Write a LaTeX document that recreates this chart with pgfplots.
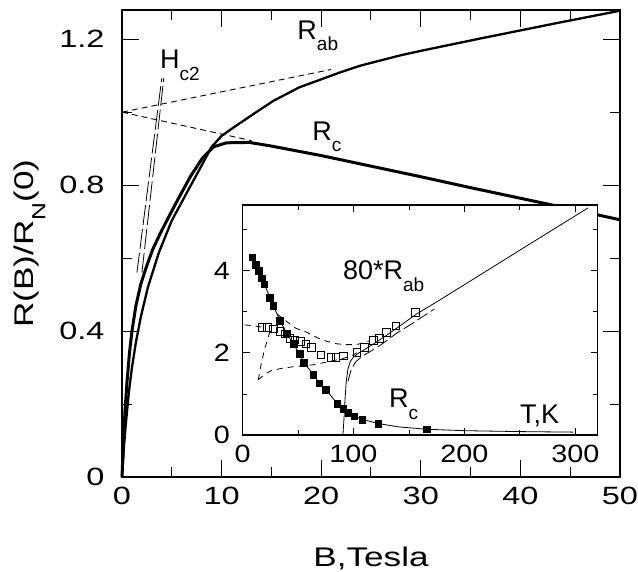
\documentclass[border=0pt]{standalone}
\usepackage{fontspec}
\setmainfont{Liberation Sans}
\newfontfamily\tickfont{Liberation Sans}[FakeStretch=1.3]
\newfontfamily\insetfont{Liberation Sans}[FakeStretch=1.15]
\newfontfamily\labfont{Liberation Sans}[FakeStretch=1.3]
\usepackage{pgfplots}
\pgfplotsset{compat=1.18}
\newcommand{\sub}[1]{\raisebox{-0.42em}{\fontsize{19}{19}\selectfont #1}}
\begin{document}
\begin{tikzpicture}
\path[use as bounding box] (0,0) rectangle (638pt,571pt);
% main panel
\begin{axis}[
  at={(122pt,94pt)}, anchor=south west,
  width=498pt, height=467pt, scale only axis,
  xmin=0, xmax=50, ymin=0, ymax=1.28,
  xtick={0,10,...,50}, minor xtick={5,15,...,45},
  ytick={0,0.4,0.8,1.2}, minor ytick={0.2,0.6,1.0},
  xticklabels={0,10,20,30,40,50}, yticklabels={0,0.4,0.8,1.2},
  tick align=inside,
  major tick length=17pt, minor tick length=10pt,
  every tick/.style={black, line width=1pt},
  axis line style={line width=1.5pt},
  ticklabel style={font=\tickfont\fontsize{25}{25}\selectfont},
  yticklabel style={xshift=-14pt},
  xticklabel style={yshift=-7pt},
  xlabel={B,Tesla}, ylabel={R(B)/R\sub{N}(0)},
  label style={font=\labfont\fontsize{27}{27}\selectfont},
  xlabel style={at={(axis description cs:0.5,-0.175)}, anchor=center},
  ylabel style={at={(axis description cs:-0.185,0.5)}, anchor=center},
  clip=false,
]
% R_c
\addplot[black, line width=3pt] coordinates {
  (0,0) (0.15,0.1) (0.3,0.18) (0.5,0.26) (0.75,0.34) (1.0,0.40) (1.4,0.47)
  (1.9,0.53) (2.5,0.58) (3.1,0.625) (3.8,0.665) (4.5,0.703) (5.6,0.76)
  (6.9,0.825) (8.1,0.875) (9.2,0.905) (10.5,0.916) (12.8,0.917) (15,0.907)
  (20,0.881) (25,0.852) (30,0.823) (35,0.793) (40,0.764) (45,0.735) (50,0.705)};
% R_ab
\addplot[black, line width=2.3pt] coordinates {
  (0,0) (0.2,0.085) (0.4,0.15) (0.7,0.235) (1.0,0.30) (1.4,0.37) (1.9,0.44)
  (2.6,0.52) (3.7,0.615) (5.0,0.703) (6.8,0.794) (7.9,0.849) (9.0,0.905)
  (10,0.935) (11.2,0.958) (13.2,0.995) (15.2,1.031) (17.8,1.068) (20,1.09)
  (22,1.11) (24,1.128) (26,1.142) (28,1.156) (30,1.168) (33,1.185)
  (36,1.202) (40,1.224) (44,1.246) (47,1.262) (50,1.278)};
% linear extrapolations to B=0
\addplot[black, line width=0.9pt, dash pattern=on 6pt off 4pt] coordinates {(0,1.0) (21,1.117)};
\addplot[black, line width=0.9pt, dash pattern=on 6pt off 4pt] coordinates {(0,1.0) (13,0.922)};
% H_c2
\addplot[black, line width=0.8pt, dash pattern=on 20pt off 4pt] coordinates {(1.5,0.56) (4.0,1.094)};
\addplot[black, line width=0.8pt, dash pattern=on 20pt off 4pt] coordinates {(2.0,0.56) (4.2,1.094)};
\node[anchor=base west, font=\fontsize{27}{27}\selectfont, inner sep=0pt] at (axis cs:3.8,1.119) {H\sub{c2}};
\node[anchor=base west, font=\fontsize{27}{27}\selectfont, inner sep=0pt] at (axis cs:17.6,1.2) {R\sub{ab}};
\node[anchor=base west, font=\fontsize{27}{27}\selectfont, inner sep=0pt] at (axis cs:19.1,0.922) {R\sub{c}};
\end{axis}
% inset
\begin{axis}[
  at={(242.5pt,136pt)}, anchor=south west,
  width=355pt, height=230pt, scale only axis,
  axis background/.style={fill=white},
  xmin=0, xmax=320, ymin=0, ymax=5.6,
  xtick={0,100,200,300}, minor xtick={50,150,250},
  ytick={0,2,4}, minor ytick={1,3,5},
  xticklabels={0,100,200,300}, yticklabels={0,2,4},
  tick align=inside,
  major tick length=7pt, minor tick length=4.5pt,
  every tick/.style={black, line width=0.8pt},
  axis line style={line width=1.5pt},
  ticklabel style={font=\insetfont\fontsize{25}{25}\selectfont},
  yticklabel style={xshift=-9pt},
  xticklabel style={yshift=-7pt},
  clip=false,
]
% R_c points and line
\addplot[black, line width=0.8pt] coordinates {
  (8.7,4.33) (11.9,4.15) (14.9,4.0) (17.3,3.82) (19.6,3.67) (24.8,3.35)
  (27.7,3.15) (33.8,2.79) (39.8,2.48) (45.8,2.22) (51.2,1.98) (55.4,1.77)
  (63.8,1.47) (69.2,1.26) (75.2,1.10) (85.4,0.77) (90.8,0.65) (95.3,0.54)
  (100.7,0.46) (107.9,0.38) (122.3,0.28) (140,0.2) (165.9,0.14) (200,0.105)
  (250,0.083) (298,0.07)};
\addplot[only marks, mark=square*, mark size=3.4pt, black] coordinates {
  (8.7,4.33) (11.9,4.15) (14.9,4.0) (17.3,3.82) (19.6,3.67) (24.8,3.35)
  (27.7,3.15) (33.8,2.79) (39.8,2.48) (45.8,2.22) (51.2,1.98) (55.4,1.77)
  (63.8,1.47) (69.2,1.26) (75.2,1.10) (85.4,0.77) (90.8,0.65) (95.3,0.54)
  (100.7,0.46) (107.9,0.38) (122.3,0.28) (165.9,0.14)};
% 80*R_ab solid
\addplot[black, line width=0.8pt] coordinates {
  (90.5,0) (91.5,0.4) (92.5,0.9) (93.5,1.3) (95,1.6) (97,1.78) (100,1.9)
  (105,2.0) (110,2.08) (120,2.25) (130,2.43) (140,2.62) (156,2.93)
  (178,3.29) (250,4.5) (311.5,5.53)};
% 80*R_ab long dashed
\addplot[black, line width=0.8pt, dash pattern=on 12pt off 4pt] coordinates {
  (95,1.3) (98,1.6) (102,1.78) (108,1.92) (115,2.03) (125,2.2) (139,2.48)
  (151,2.68) (173,3.07)};
% dashed fits
\addplot[black, line width=0.8pt, dash pattern=on 6pt off 5pt] coordinates {
  (31,2.95) (38,2.8) (48,2.6) (58,2.5) (68,2.36) (76,2.28) (85,2.22)
  (94,2.2) (102,2.2) (109,2.24) (115,2.3)};
\addplot[black, line width=0.8pt, dash pattern=on 6pt off 5pt] coordinates {
  (2,2.68) (10,2.66) (17,2.63)};
\addplot[black, line width=0.8pt, dash pattern=on 6pt off 5pt] coordinates {
  (14.2,1.34) (17,1.75) (20,2.1) (24.5,2.5)};
\addplot[black, line width=0.8pt, dash pattern=on 6pt off 5pt] coordinates {
  (14,1.34) (20,1.48) (26,1.57) (35,1.62) (45,1.66) (64,1.71) (82,1.81)
  (97,1.91) (103,2.0)};
% open squares
\addplot[only marks, mark=square, mark size=3.8pt, black, mark options={line width=0.7pt}] coordinates {
  (17.3,2.62) (22.3,2.62) (27.7,2.58) (33.8,2.52) (38.3,2.46) (42.8,2.36)
  (47.3,2.32) (52.4,2.28) (57.2,2.22) (62.3,2.13) (70.5,1.95) (79.7,1.89)
  (84.2,1.89) (90.8,1.93) (102.9,2.01) (109.7,2.14) (117.8,2.30)
  (123.2,2.36) (129.9,2.50) (138.3,2.66) (156,2.98)};
\node[anchor=base west, font=\fontsize{27}{27}\selectfont, inner sep=0pt] at (axis cs:90.5,3.78) {80*R\sub{ab}};
\node[anchor=base west, font=\fontsize{27}{27}\selectfont, inner sep=0pt] at (axis cs:132,0.66) {R\sub{c}};
\node[anchor=base west, font=\fontsize{27}{27}\selectfont, inner sep=0pt] at (axis cs:250,0.29) {T,K};
\end{axis}
\end{tikzpicture}
\end{document}
